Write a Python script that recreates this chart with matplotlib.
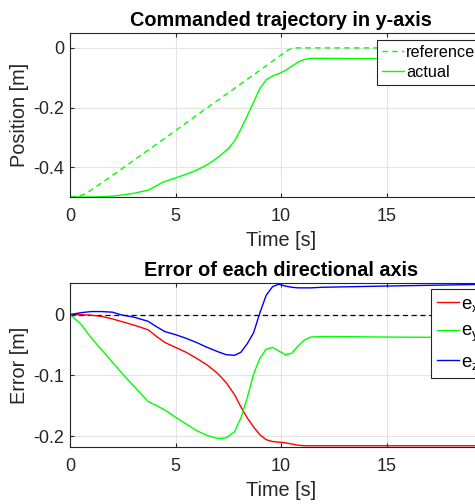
import matplotlib
matplotlib.use("Agg")
import matplotlib.pyplot as plt

plt.rcParams['font.family'] = ['Liberation Sans', 'DejaVu Sans']
plt.rcParams['mathtext.fontset'] = 'custom'
plt.rcParams['mathtext.rm'] = 'Liberation Sans'
plt.rcParams['mathtext.it'] = 'Liberation Sans'

# ---- data ----
t_ref = [0, 0.3, 0.6, 1, 2, 3, 4, 5, 6, 7, 8, 9, 10, 10.3, 10.6, 11, 20]
y_ref = [-0.5, -0.498, -0.493, -0.477, -0.428, -0.378, -0.328, -0.277, -0.226, -0.176,
         -0.125, -0.075, -0.024, -0.008, 0, 0, 0]

t_act = [0, 0.5, 1, 1.5, 2, 2.5, 3, 3.7, 4, 4.4, 5, 5.5, 6, 6.5, 7, 7.5, 7.8, 8.1,
         8.4, 8.7, 9.0, 9.3, 9.6, 9.9, 10.2, 10.5, 10.8, 11.1, 11.4, 12, 15, 20]
y_act = [-0.5, -0.5, -0.5, -0.499, -0.497, -0.493, -0.488, -0.477, -0.466, -0.450,
         -0.436, -0.424, -0.410, -0.392, -0.368, -0.338, -0.312, -0.272, -0.228, -0.182,
         -0.136, -0.107, -0.094, -0.086, -0.076, -0.062, -0.048, -0.039, -0.035, -0.035,
         -0.036, -0.037]

t_err = [0, 0.5, 1, 1.5, 2, 2.5, 3, 3.7, 4.1, 4.5, 5, 5.5, 6, 6.5, 7, 7.4, 7.8, 8.1,
         8.4, 8.7, 9.0, 9.3, 9.6, 9.9, 10.2, 10.5, 10.8, 11.1, 11.4, 12, 15, 20]
e_x = [0, 0, -0.001, -0.003, -0.007, -0.012, -0.017, -0.025, -0.036, -0.046, -0.054,
       -0.062, -0.072, -0.083, -0.097, -0.112, -0.132, -0.152, -0.170, -0.185, -0.198,
       -0.206, -0.209, -0.210, -0.211, -0.213, -0.215, -0.216, -0.216, -0.216, -0.216, -0.216]
e_y = [0, -0.015, -0.038, -0.058, -0.078, -0.098, -0.117, -0.143, -0.150, -0.157, -0.169,
       -0.180, -0.191, -0.199, -0.204, -0.203, -0.193, -0.170, -0.137, -0.098, -0.072,
       -0.057, -0.054, -0.060, -0.066, -0.064, -0.052, -0.042, -0.037, -0.036, -0.037, -0.038]
e_z = [0, 0.003, 0.005, 0.005, 0.004, -0.001, -0.004, -0.011, -0.020, -0.028, -0.033,
       -0.039, -0.046, -0.054, -0.061, -0.066, -0.067, -0.062, -0.048, -0.030, 0.003,
       0.032, 0.046, 0.050, 0.047, 0.045, 0.044, 0.044, 0.044, 0.045, 0.047, 0.050]

xticks = [0, 5, 10, 15, 20]

dark = '#262626'
gridc = '#e3e3e3'
TICK = 13
LAB = 14.3
LEG = 11.7

fig = plt.figure(figsize=(4.75, 5.04), dpi=100)
L = 70 / 475
W = 422 / 475
ax1 = fig.add_axes([L, 1 - 197 / 504, W, 164 / 504])
ax2 = fig.add_axes([L, 1 - 447 / 504, W, 164 / 504])


def style(ax):
    ax.set_xlim(0, 20)
    ax.set_xticks(xticks)
    ax.grid(True, color=gridc, lw=0.8)
    ax.set_axisbelow(True)
    for s in ax.spines.values():
        s.set_color(dark)
        s.set_linewidth(0.8)
    ax.tick_params(direction='in', top=True, right=True, length=3, width=0.8,
                   colors=dark, labelsize=TICK)
    ax.tick_params(axis='x', pad=8)
    ax.tick_params(axis='y', pad=4)
    ax.set_xlabel('Time [s]', fontsize=LAB, color=dark, labelpad=4)


ax1.plot(t_ref, y_ref, color='#00ff00', lw=1.0, ls=(0, (4, 3)), label='reference')
ax1.plot(t_act, y_act, color='#00ff00', lw=1.0, label='actual')
style(ax1)
ax1.set_ylim(-0.5, 0.05)
ax1.set_yticks([0, -0.2, -0.4])
ax1.set_yticklabels(['0', '-0.2', '-0.4'])
ax1.set_ylabel('Position [m]', fontsize=LAB, color=dark, labelpad=3)
ax1.set_title('Commanded trajectory in y-axis', fontsize=LAB, fontweight='bold', pad=5)
leg1 = ax1.legend(loc='upper left', bbox_to_anchor=(0.727, 0.957), fontsize=LEG,
                  handlelength=1.35, handletextpad=0.15, borderpad=0.3, labelspacing=0.32,
                  fancybox=False, framealpha=1, edgecolor=dark, borderaxespad=0)
leg1.get_frame().set_linewidth(0.8)

ax2.plot([0, 20], [0, 0], color='black', lw=0.9, ls=(0, (4, 3)))
ax2.plot(t_err, e_x, color='#ff0000', lw=1.0, label=r'$\mathregular{e_x}$')
ax2.plot(t_err, e_y, color='#00ff00', lw=1.0, label=r'$\mathregular{e_y}$')
ax2.plot(t_err, e_z, color='#0000ff', lw=1.0, label=r'$\mathregular{e_z}$')
style(ax2)
ax2.set_ylim(-0.218, 0.052)
ax2.set_yticks([0, -0.1, -0.2])
ax2.set_yticklabels(['0', '-0.1', '-0.2'])
ax2.set_ylabel('Error [m]', fontsize=LAB, color=dark, labelpad=3)
ax2.set_title('Error of each directional axis', fontsize=LAB, fontweight='bold', pad=5)
handles, labels = ax2.get_legend_handles_labels()
leg2 = ax2.legend(handles[-3:], labels[-3:], loc='upper left', bbox_to_anchor=(0.855, 0.963),
                  fontsize=LEG * 1.15, handlelength=1.15, handletextpad=0.12, borderpad=0.35,
                  labelspacing=0.5, fancybox=False, framealpha=1, edgecolor=dark,
                  borderaxespad=0)
leg2.get_frame().set_linewidth(0.8)

fig.savefig('out.png', dpi=100)
